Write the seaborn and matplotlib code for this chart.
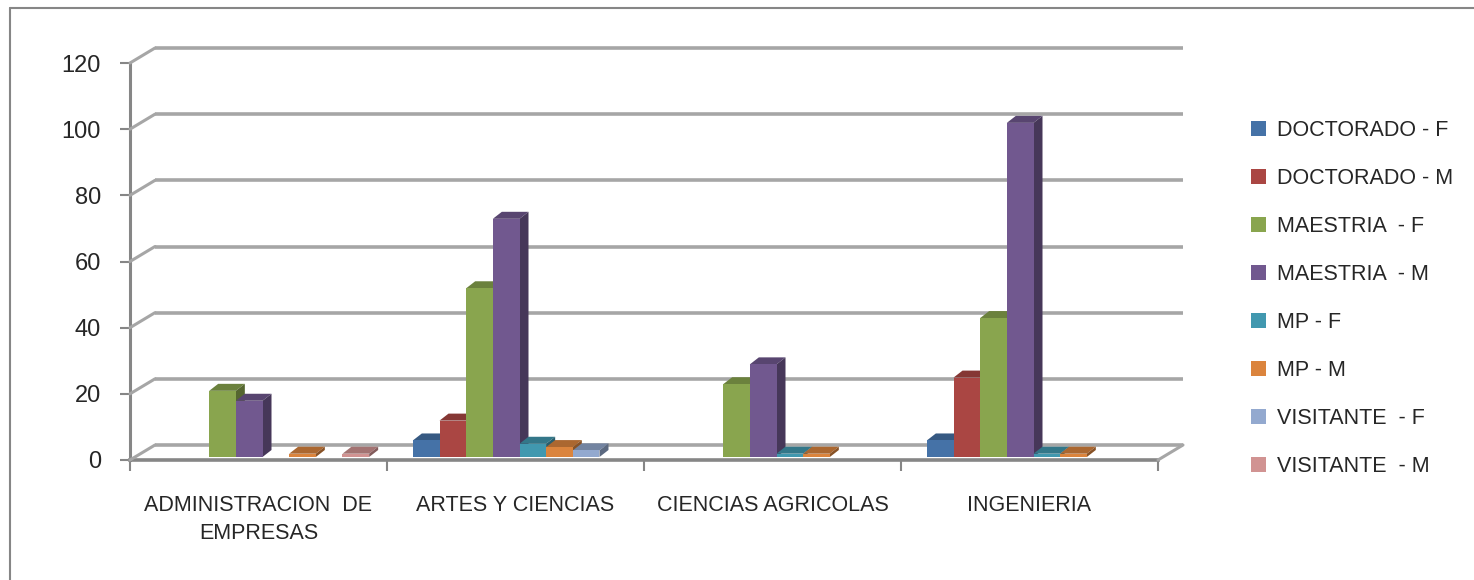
import numpy as np
import pandas as pd
import seaborn as sns
import matplotlib.pyplot as plt
import matplotlib.transforms as mtransforms
from matplotlib.patches import Polygon, Patch
from matplotlib.lines import Line2D

# Data
categories = ["ADMINISTRACION  DE\nEMPRESAS", "ARTES Y CIENCIAS",
              "CIENCIAS AGRICOLAS", "INGENIERIA"]
series = ["DOCTORADO - F", "DOCTORADO - M", "MAESTRIA  - F", "MAESTRIA  - M",
          "MP - F", "MP - M", "VISITANTE  - F", "VISITANTE  - M"]
admin = [0, 0, 20, 17, 0, 1, 0, 1]
artes = [5, 11, 51, 72, 4, 3, 2, 0]
agricolas = [0, 0, 22, 28, 1, 1, 0, 0]
ingenieria = [5, 24, 42, 101, 1, 1, 0, 0]
colors = ["#4572A7", "#AA4643", "#89A54E", "#71588F",
          "#4198AF", "#DB843D", "#93A9CF", "#D19392"]
yticks = [0, 20, 40, 60, 80, 100, 120]

rows = []
for cat, vals in zip(categories, [admin, artes, agricolas, ingenieria]):
    for s, v in zip(series, vals):
        rows.append({"categoria": cat, "serie": s, "valor": v})
df = pd.DataFrame(rows)

sns.set_style("white")
plt.rcParams["font.family"] = ["Liberation Sans", "DejaVu Sans"]

W, H = 1474, 580
fig = plt.figure(figsize=(W / 100, H / 100), dpi=100)
ax_left, ax_right, ax_top, ax_bot = 130, 1158, 63, 460
ax = fig.add_axes([ax_left / W, 1 - ax_bot / H, (ax_right - ax_left) / W, (ax_bot - ax_top) / H])

sns.barplot(data=df, x="categoria", y="valor", hue="serie", order=categories,
            hue_order=series, palette=colors, saturation=1, width=0.83,
            linewidth=0, ax=ax, legend=True, errorbar=None)

ax.set_xlim(-0.5, len(categories) - 0.5)
ax.set_ylim(0, 120)
ax.set_xlabel("")
ax.set_ylabel("")

grid_c = "#A6A6A6"
axis_c = "#868686"
back = mtransforms.offset_copy(ax.transData, fig=fig, x=25, y=15, units="dots")

# back-wall gridlines + diagonals
for v in yticks:
    ax.plot([-0.5, len(categories) - 0.5], [v, v], transform=back, color=grid_c,
            lw=2.6, clip_on=False, zorder=0.5, solid_capstyle="butt")
    p0 = ax.transData.transform((-0.5, v))
    xs = [p0[0], p0[0] + 25]
    ys = [p0[1], p0[1] + 15]
    fig.add_artist(Line2D(np.array(xs) / W, np.array(ys) / H, color=grid_c, lw=2.2, zorder=0.5))
# right floor diagonal
p1 = ax.transData.transform((len(categories) - 0.5, 0))
fig.add_artist(Line2D(np.array([p1[0], p1[0] + 25]) / W, np.array([p1[1], p1[1] + 15]) / H,
                      color=grid_c, lw=2.2, zorder=0.5))

# 3D faces for bars
shift = mtransforms.offset_copy(ax.transData, fig=fig, x=4, y=3, units="dots")
dx = 9 / 257.0
dy = 7 / 3.31


def darker(c, f):
    r, g, b = plt.matplotlib.colors.to_rgb(c)
    return (r * f, g * f, b * f)


bars = [p for p in ax.patches if hasattr(p, "get_height") and p.get_width() > 0]
bars = sorted(bars, key=lambda p: p.get_x())
for i, p in enumerate(bars):
    h = p.get_height()
    z = 2 + i * 0.01
    p.set_transform(shift)
    p.set_zorder(z + 0.005)
    if h <= 0:
        p.set_visible(False)
        continue
    x0, w = p.get_x(), p.get_width()
    col = p.get_facecolor()
    top = Polygon([(x0, h), (x0 + w, h), (x0 + w + dx, h + dy), (x0 + dx, h + dy)],
                  closed=True, facecolor=darker(col, 0.78), lw=0, transform=shift,
                  zorder=z, clip_on=False)
    side = Polygon([(x0 + w, 0), (x0 + w + dx, dy), (x0 + w + dx, h + dy), (x0 + w, h)],
                   closed=True, facecolor=darker(col, 0.62), lw=0, transform=shift,
                   zorder=z, clip_on=False)
    ax.add_patch(top)
    ax.add_patch(side)
    p.set_clip_on(False)

# axes styling
for s in ["top", "right"]:
    ax.spines[s].set_visible(False)
ax.spines["left"].set_color(axis_c)
ax.spines["left"].set_linewidth(2.2)
ax.spines["bottom"].set_color(axis_c)
ax.spines["bottom"].set_linewidth(2.6)
ax.set_yticks(yticks)
ax.tick_params(axis="y", length=7, width=1.5, color=axis_c, pad=14, labelsize=17,
               direction="out", left=True)
ax.set_xticks(range(len(categories)))
ax.set_xticklabels(categories, fontsize=15.5, linespacing=1.45)
ax.set_xticks(np.arange(-0.5, len(categories)), minor=True)
ax.tick_params(axis="x", which="major", length=0, pad=25)
ax.tick_params(axis="x", which="minor", length=8, width=1.5, color=axis_c,
               direction="out", bottom=True)
ax.set_facecolor("none")
ax.grid(False)

# legend
handles = [Patch(facecolor=c, edgecolor="none") for c in colors]
old = ax.get_legend()
if old is not None:
    old.remove()
fig.legend(handles, series, loc="upper left", bbox_to_anchor=(1232 / W, 1 - 101 / H),
           frameon=False, fontsize=15.5, handlelength=0.7, handleheight=0.7,
           handletextpad=0.5, labelspacing=1.25)

# outer chart border
fig.add_artist(Line2D([10 / W, 10 / W], [0, 1 - 8 / H], color=axis_c, lw=1.5))
fig.add_artist(Line2D([10 / W, 1], [1 - 8 / H, 1 - 8 / H], color=axis_c, lw=1.5))

fig.savefig("out.png", dpi=100, facecolor="white")
